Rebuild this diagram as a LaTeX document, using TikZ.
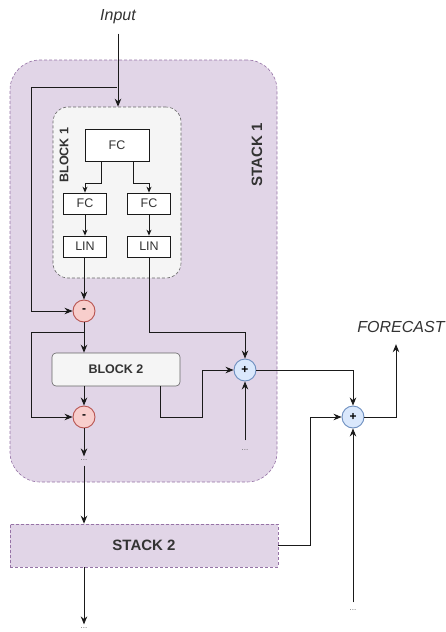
\documentclass[tikz,border=0pt]{standalone}
\usepackage{fontspec}
\setmainfont{Liberation Sans}
\setsansfont{Liberation Sans}
\usetikzlibrary{positioning,arrows.meta,calc}
\definecolor{ink}{HTML}{1A1A1A}
\definecolor{txt}{HTML}{333333}
\definecolor{plum}{HTML}{9673A6}
\definecolor{plumwash}{HTML}{E1D5E7}
\definecolor{grey}{HTML}{666666}
\definecolor{greywash}{HTML}{F5F5F5}
\definecolor{rose}{HTML}{B85450}
\definecolor{rosewash}{HTML}{F8CECC}
\definecolor{sky}{HTML}{6C8EBF}
\definecolor{skywash}{HTML}{DAE8FC}
\tikzset{
  font=\sffamily,
  >={Stealth[length=8pt,width=6.5pt]},
  %% containers
  stackbox/.style = {draw=plum, fill=plumwash, line width=0.6pt,
                     dash pattern=on 3pt off 2pt, inner sep=0pt},
  blockbox/.style = {draw=grey, fill=greywash, line width=0.6pt,
                     dash pattern=on 3pt off 2pt, inner sep=0pt},
  %% nodes
  layer/.style    = {draw=ink, fill=white, line width=0.7pt, inner sep=0pt,
                     font=\fontsize{12.5}{14}\selectfont, text=txt},
  subnode/.style  = {circle, draw=rose, fill=rosewash, line width=0.9pt,
                     minimum size=22pt, inner sep=0pt, font=\fontsize{12}{13}\selectfont\bfseries},
  addnode/.style  = {circle, draw=sky, fill=skywash, line width=0.9pt,
                     minimum size=22pt, inner sep=0pt, font=\fontsize{12}{13}\selectfont\bfseries},
  %% arrows
  flow/.style     = {->, draw=ink, line width=0.9pt},
  small/.style    = {-{Stealth[length=6pt,width=5pt]}},
  %% annotations
  title/.style    = {font=\fontsize{16}{18}\selectfont\itshape, text=txt},
  tag/.style      = {font=\fontsize{12.5}{14}\selectfont\bfseries, text=txt},
  bigtag/.style   = {font=\fontsize{15}{17}\selectfont\bfseries, text=txt},
  more/.style     = {font=\fontsize{8}{9}\selectfont, text=grey, inner sep=1pt},
}

\begin{document}
\begin{tikzpicture}[x=1pt, y=-1pt]
\useasboundingbox (0,0) rectangle (445,632);

%% ---- stack 1 ----
\node[stackbox, rounded corners=30pt, minimum width=267pt, minimum height=422pt]
  (stackA) at (143.5,271) {};
\node[bigtag, rotate=90] (stackAlbl) at (257,155) {STACK 1};

%% block 1
\node[blockbox, rounded corners=15pt, minimum width=128pt, minimum height=171pt]
  (blockA) at (117,192.5) {};
\node[tag, rotate=90] (blockAlbl) at (64,155) {BLOCK 1};

\node[layer, minimum width=64pt, minimum height=32pt] (fc0) at (117,145) {FC};
\node[layer, minimum width=43pt, minimum height=21pt] (fcl) at (85,203.5) {FC};
\node[layer, minimum width=43pt, minimum height=21pt] (fcr) at (149,203.5) {FC};
\node[layer, minimum width=43pt, minimum height=21pt] (linl) at (85,246.5) {LIN};
\node[layer, minimum width=43pt, minimum height=21pt] (linr) at (149,246.5) {LIN};

%% block 2 and the residual path
\node[subnode] (sub1) at (84,311) {-};
\node[draw=grey, fill=greywash, line width=0.6pt, rounded corners=4pt,
      minimum width=128pt, minimum height=33pt, tag] (blockB) at (116,369.5) {BLOCK 2};
\node[subnode] (sub2) at (84,417) {-};
\node[addnode] (add1) at (245,370) {+};
\node[more] (dotsA) at (245,450) {...};
\node[more] (dotsB) at (84,460) {...};

%% ---- stack 2 ----
\node[stackbox, minimum width=268pt, minimum height=43pt, bigtag] (stackB) at (144,545.5) {STACK 2};
\node[more] (dotsD) at (84,628) {...};

%% forecast sum
\node[addnode] (add2) at (353,417) {+};
\node[more] (dotsC) at (353,610) {...};
\node[title] (forecast) at (401,327) {FORECAST};
\node[title] (input) at (118,17) {Input};

\coordinate (split) at (117,87);
\coordinate (lft) at (31,0);
\coordinate (split2) at (84,332);
\coordinate (jog) at (202,417);
\coordinate (jog2) at (310,417);

%% edges
\draw[flow, shorten <=6pt] (input) -- (blockA.north -| input);
\draw[flow] (split) -| (lft |- sub1) -- (sub1);
\draw[flow, small] ([xshift=-16pt]fc0.south) |- ++(0,22) -| (fcl);
\draw[flow, small] ([xshift=16pt]fc0.south) |- ++(0,22) -| (fcr);
\draw[flow, small] (fcl) -- (linl);
\draw[flow, small] (fcr) -- (linr);
\draw[flow] (linl.south -| sub1) -- (sub1);
\draw[flow] (sub1) -- (sub1 |- blockB.north);
\draw[flow] (split2) -| (lft |- sub2) -- (sub2);
\draw[flow] (sub1 |- blockB.south) -- (sub2);
\draw[flow] (linr) |- (split2 -| add1) -- (add1);
\draw[flow] ([xshift=-20pt]blockB.south east) |- (jog) |- (add1);
\draw[flow] (dotsA.north) ++(0,-8) -- (add1);
\draw[flow, shorten >=2pt] (sub2) -- (dotsB);
\draw[flow, shorten <=4pt] (dotsB) -- (dotsB |- stackB.north);
\draw[flow, shorten >=2pt] (stackB.south -| dotsD) -- (dotsD);
\draw[flow] (add1) -| (add2);
\draw[flow] (stackB.east) -| (jog2) -- (add2);
\draw[flow, shorten <=6pt] (dotsC) -- (add2);
\draw[flow] (add2) -| ([xshift=-5pt,yshift=-8pt]forecast.south);

\end{tikzpicture}
\end{document}
